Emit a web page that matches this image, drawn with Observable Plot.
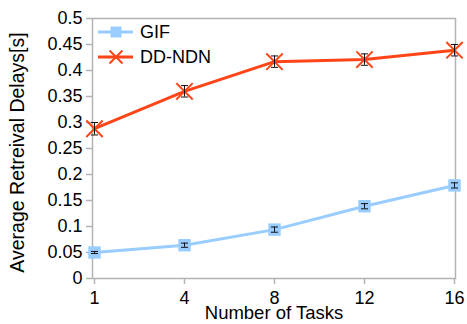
<!DOCTYPE html>
<html>
<head>
<meta charset="utf-8">
<script src="https://cdn.jsdelivr.net/npm/d3@7"></script>
<script src="https://cdn.jsdelivr.net/npm/@observablehq/plot@0.6"></script>
<style>
  body { margin: 0; background: #fff; }
  #chart { position: relative; width: 467px; height: 324px; font-family: "Liberation Sans", Arial, sans-serif; }
  #legend { position: absolute; left: 0; top: 0; }
</style>
</head>
<body>
<div id="chart"></div>
<script>
// Number of tasks on the x axis
const tasks = ["1", "4", "8", "12", "16"];
// Average retrieval delay (s) and half-width of the error bars
const gifDelay = [0.050, 0.064, 0.094, 0.139, 0.179];
const gifErr   = [0.002, 0.004, 0.005, 0.005, 0.005];
const ndnDelay = [0.288, 0.360, 0.417, 0.421, 0.439];
const ndnErr   = [0.012, 0.011, 0.011, 0.011, 0.011];
const yTicks = [0, 0.05, 0.1, 0.15, 0.2, 0.25, 0.3, 0.35, 0.4, 0.45, 0.5];

const GIF_COLOR = "#99ccff";
const NDN_COLOR = "#ff4517";
const FRAME = "#b3b3b3";

const gif = tasks.map((t, i) => ({task: t, y: gifDelay[i], lo: gifDelay[i] - gifErr[i], hi: gifDelay[i] + gifErr[i]}));
const ndn = tasks.map((t, i) => ({task: t, y: ndnDelay[i], lo: ndnDelay[i] - ndnErr[i], hi: ndnDelay[i] + ndnErr[i]}));

// horizontal cap for the error bars
const capSymbol = {
  draw(ctx, size) {
    const r = Math.sqrt(size / Math.PI);
    ctx.moveTo(-r, 0);
    ctx.lineTo(r, 0);
  }
};

function errorBars(data) {
  return [
    Plot.ruleX(data, {x: "task", y1: "lo", y2: "hi", stroke: "#111", strokeWidth: 1}),
    Plot.dot(data, {x: "task", y: "lo", symbol: capSymbol, r: 3.5, stroke: "#111", strokeWidth: 1}),
    Plot.dot(data, {x: "task", y: "hi", symbol: capSymbol, r: 3.5, stroke: "#111", strokeWidth: 1})
  ];
}

const plot = Plot.plot({
  width: 467,
  height: 324,
  marginLeft: 92,
  marginRight: 12,
  marginTop: 18,
  marginBottom: 46,
  style: {fontFamily: "Liberation Sans, Arial, sans-serif", fontSize: "18px", color: "#000", background: "#fff"},
  x: {type: "point", domain: tasks, padding: 0, label: null},
  y: {domain: [0, 0.5], label: null},
  marks: [
    Plot.frame({stroke: FRAME, strokeWidth: 1.5}),
    Plot.axisY({ticks: yTicks, tickFormat: d => String(+d.toFixed(2)), tickSize: 6, tickPadding: 4, stroke: FRAME, strokeWidth: 1.5, fontSize: 18}),
    Plot.axisX({tickSize: 6, tickPadding: 7, stroke: FRAME, strokeWidth: 1.5, fontSize: 18}),
    Plot.text(["Average Retreival Delays[s]"], {frameAnchor: "left", textAnchor: "middle", rotate: -90, dx: -75, dy: 4, fontSize: 19.5}),
    Plot.text(["Number of Tasks"], {frameAnchor: "bottom", dy: 40, fontSize: 18.5}),
    Plot.line(gif, {x: "task", y: "y", stroke: GIF_COLOR, strokeWidth: 3}),
    Plot.dot(gif, {x: "task", y: "y", symbol: "square", r: 7, fill: GIF_COLOR, stroke: "none"}),
    ...errorBars(gif),
    Plot.line(ndn, {x: "task", y: "y", stroke: NDN_COLOR, strokeWidth: 3}),
    Plot.dot(ndn, {x: "task", y: "y", symbol: "times", r: 7.5, stroke: NDN_COLOR, strokeWidth: 2}),
    ...errorBars(ndn)
  ]
});
document.getElementById("chart").appendChild(plot);

// legend drawn in the top-left corner of the plot area
const series = [
  {name: "GIF", color: GIF_COLOR, symbol: d3.symbolSquare, size: 120, filled: true},
  {name: "DD-NDN", color: NDN_COLOR, symbol: d3.symbolTimes, size: 110, filled: false}
];
const legend = d3.select("#chart").append("svg")
  .attr("id", "legend").attr("width", 467).attr("height", 80);
series.forEach((s, i) => {
  const cy = 32 + i * 25;
  const g = legend.append("g");
  g.append("line").attr("x1", 98).attr("x2", 133).attr("y1", cy).attr("y2", cy)
    .attr("stroke", s.color).attr("stroke-width", 3);
  g.append("path").attr("transform", `translate(116,${cy})`)
    .attr("d", d3.symbol(s.symbol, s.size)())
    .attr("fill", s.filled ? s.color : "none")
    .attr("stroke", s.filled ? "none" : s.color)
    .attr("stroke-width", 2);
  g.append("text").attr("x", 140).attr("y", cy).attr("dy", "0.35em")
    .attr("font-family", "Liberation Sans, Arial, sans-serif").attr("font-size", 18)
    .text(s.name);
});
</script>
</body>
</html>
